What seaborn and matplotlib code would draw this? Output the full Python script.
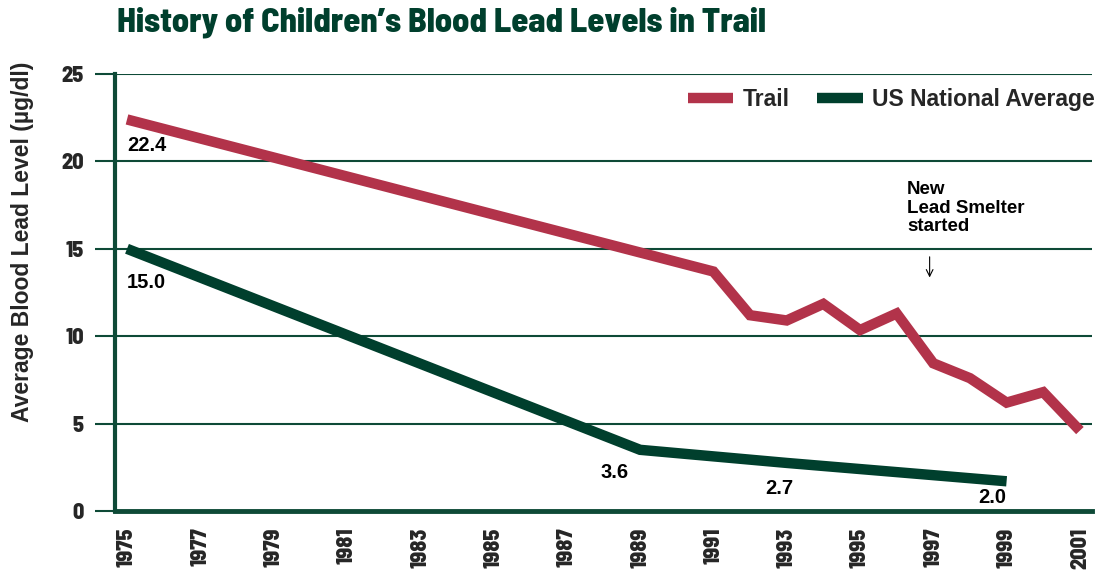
import matplotlib
matplotlib.use("Agg")
import matplotlib.pyplot as plt
from matplotlib import font_manager as fm
from matplotlib.lines import Line2D
import seaborn as sns
import pandas as pd

# ---- data ----
trail_years = [1975, 1991, 1992, 1993, 1994, 1995, 1996, 1997, 1998, 1999, 2000, 2001]
trail_values = [22.4, 13.7, 11.2, 10.9, 11.85, 10.35, 11.3, 8.45, 7.6, 6.2, 6.8, 4.6]
us_years = [1975, 1989, 1993, 1999]
us_values = [15.0, 3.5, 2.75, 1.7]
series_names = ["Trail", "US National Average"]
x_ticks = list(range(1975, 2002, 2))
y_ticks = [0, 5, 10, 15, 20, 25]
value_labels = ["22.4", "15.0", "3.6", "2.7", "2.0"]
value_label_x = [1975.0, 1975.0, 1988.3, 1992.8, 1998.6]
value_label_y = [20.9, 13.1, 2.2, 1.3, 0.75]
title = "History of Children\u2019s Blood Lead Levels in Trail"
ylabel = "Average Blood Lead Level (\u00b5g/dl)"
note = "New\nLead Smelter\nstarted"

RED = "#B2334A"
GREEN = "#003F2D"
GRID = "#0E4A37"

available = set(f.name for f in fm.fontManager.ttflist)
def pick(cands):
    for c in cands:
        if c in available:
            return c
    return "DejaVu Sans"
COND = pick(["Barlow Semi Condensed", "Roboto Condensed", "Barlow Condensed", "Asap Condensed",
             "Liberation Sans Narrow"])

df = pd.concat([
    pd.DataFrame({"year": trail_years, "value": trail_values, "series": series_names[0]}),
    pd.DataFrame({"year": us_years, "value": us_values, "series": series_names[1]}),
])

sns.set_theme(style="white")
plt.rcParams["font.family"] = ["Liberation Sans", "DejaVu Sans"]

fig = plt.figure(figsize=(10.98, 5.73), dpi=100)
ax = fig.add_axes([115 / 1098, 1 - 511 / 573, (1092 - 115) / 1098, (511 - 74) / 573])

sns.lineplot(data=df, x="year", y="value", hue="series",
             palette={series_names[0]: RED, series_names[1]: GREEN},
             linewidth=7.5, ax=ax, legend=False, sort=True)
for ln in ax.lines:
    ln.set_solid_joinstyle("miter")
    ln.set_solid_capstyle("butt")
    ln.set_clip_on(False)

ax.set_xlim(1975 - 12 / 36.65, 1975 + (1092 - 127) / 36.65)
ax.set_ylim(0, 25)
ax.set_xticks(x_ticks)
ax.set_xticklabels([str(t) for t in x_ticks], rotation=90, fontsize=16, fontweight=800,
                   family=[COND, "DejaVu Sans"])
ax.set_yticks(y_ticks)
ax.set_yticklabels([str(t) for t in y_ticks], fontsize=16, fontweight=800,
                   family=[COND, "DejaVu Sans"])
ax.tick_params(axis="y", length=14.5, width=1.5, color=GRID, direction="out", pad=8, left=True)
ax.tick_params(axis="x", length=0, pad=12)

ax.grid(axis="y", color=GRID, linewidth=1.5)
ax.grid(axis="x", visible=False)
ax.set_axisbelow(True)
for s in ["top", "right"]:
    ax.spines[s].set_visible(False)
ax.spines["left"].set_color(GRID)
ax.spines["left"].set_linewidth(3)
ax.spines["bottom"].set_color(GRID)
ax.spines["bottom"].set_linewidth(3.5)
ax.spines["bottom"].set_zorder(5)

ax.set_xlabel("")
ax.set_ylabel(ylabel, fontsize=16.5, fontweight="bold")
ax.yaxis.set_label_coords(-0.083, 0.615)

for txt, xv, yv in zip(value_labels, value_label_x, value_label_y):
    ha = "left" if xv == 1975.0 else "center"
    ax.text(xv, yv, txt, ha=ha, va="center", fontsize=14.5, fontweight="bold", color="black")

ax.text(1996.28, 17.33, note, ha="left", va="center", fontsize=13.5, fontweight="bold",
        color="black", linespacing=1.1)
ax.annotate("", xy=(1996.9, 13.2), xytext=(1996.9, 14.7),
            arrowprops=dict(arrowstyle="->", color="black", lw=0.8))

handles = [Line2D([0], [0], color=RED, lw=7.5, solid_capstyle="butt"),
           Line2D([0], [0], color=GREEN, lw=7.5, solid_capstyle="butt")]
ax.legend(handles, series_names, loc="upper right", bbox_to_anchor=(1.024, 1.015), ncol=2,
          frameon=False, prop={"weight": "bold", "size": 16.5}, handlelength=2.0,
          columnspacing=1.2, handletextpad=0.4)

fig.text(117 / 1098, 1 - 22 / 573, title, ha="left", va="center", fontsize=24.7,
         fontweight=800, color=GREEN, family=[COND, "DejaVu Sans"])

fig.savefig("out.png", dpi=100)
